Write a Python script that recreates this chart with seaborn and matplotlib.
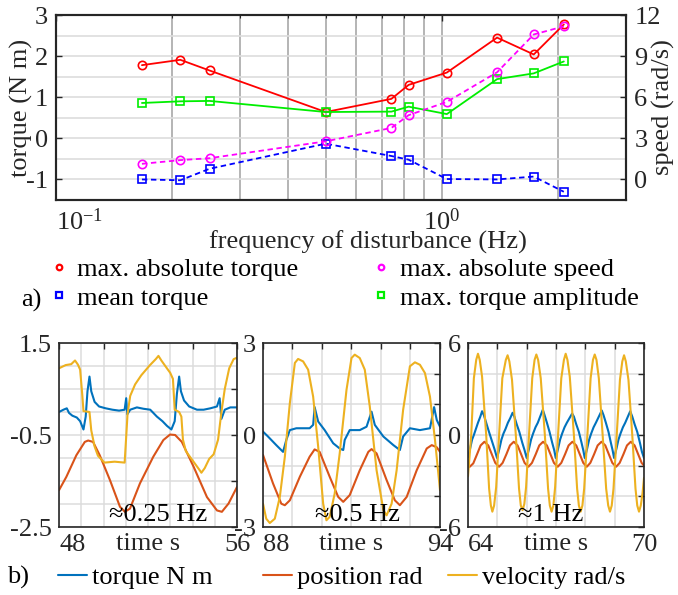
import numpy as np
import pandas as pd
import matplotlib
matplotlib.use("Agg")
import matplotlib.pyplot as plt
import seaborn as sns
from matplotlib.lines import Line2D
from matplotlib.ticker import LogLocator, NullFormatter, MultipleLocator

# ── DATA: frequency sweep (panel a) ────────────────────────────────
freq_hz        = [0.167, 0.21, 0.25, 0.5, 0.74, 0.82, 1.03, 1.39, 1.73, 2.07]
max_abs_torque = [1.78, 1.91, 1.65, 0.64, 0.96, 1.30, 1.60, 2.45, 2.04, 2.77]
max_abs_speed  = [1.14, 1.41, 1.55, 2.78, 3.76, 4.69, 5.66, 7.82, 10.58, 11.17]
mean_torque    = [-1.00, -1.02, -0.74, -0.13, -0.43, -0.52, -0.99, -1.00, -0.93, -1.30]
max_torque_amp = [0.86, 0.90, 0.91, 0.64, 0.65, 0.77, 0.59, 1.44, 1.58, 1.87]

# ── DATA: time traces (panel b), rows = [time s, value] ────────────
# ~0.25 Hz
torque_025 = np.array([
    [48.0, 0.0], [48.2, 0.05], [48.35, 0.08], [48.45, -0.02], [48.6, -0.08], [48.8, -0.12],
    [48.95, -0.2], [49.1, -0.38], [49.2, -0.1], [49.28, 0.45], [49.37, 0.77], [49.45, 0.45],
    [49.6, 0.22], [49.8, 0.12], [50.1, 0.08], [50.4, 0.05], [50.7, 0.03], [50.95, 0.05],
    [51.02, 0.3], [51.07, -0.05], [51.2, 0.05], [51.5, 0.1], [51.8, 0.07], [52.1, 0.05],
    [52.4, -0.1], [52.65, -0.2], [52.85, -0.3], [53.05, -0.38], [53.2, -0.2], [53.3, 0.4],
    [53.4, 0.77], [53.48, 0.45], [53.62, 0.25], [53.85, 0.12], [54.2, 0.05], [54.5, 0.05],
    [54.8, 0.08], [55.1, 0.12], [55.22, 0.3], [55.3, -0.15], [55.45, 0.05], [55.7, 0.1],
    [56.0, 0.1]])
position_025 = np.array([
    [48.0, -1.7], [48.33, -1.41], [48.78, -0.94], [49.16, -0.65], [49.31, -0.62], [49.53, -0.65],
    [49.83, -0.94], [50.29, -1.48], [50.74, -2.06], [50.96, -2.17], [51.19, -2.10], [51.64, -1.55],
    [52.24, -0.97], [52.69, -0.61], [52.99, -0.49], [53.22, -0.50], [53.52, -0.65], [54.05, -1.19],
    [54.65, -1.85], [55.1, -2.14], [55.32, -2.17], [55.62, -1.99], [56.0, -1.63]])
velocity_025 = np.array([
    [48.0, 0.95], [48.3, 1.02], [48.55, 1.04], [48.72, 1.12], [48.85, 1.03], [48.95, 0.92],
    [49.05, 0.35], [49.1, 0.02], [49.37, 0.0], [49.45, -0.4], [49.6, -0.75], [49.75, -0.95],
    [50.04, -1.1], [50.5, -1.08], [50.95, -1.1], [51.0, -0.7], [51.08, -0.05], [51.2, 0.35],
    [51.42, 0.6], [51.7, 0.8], [52.09, 1.02], [52.35, 1.15], [52.47, 1.22], [52.6, 1.12],
    [52.85, 0.95], [53.0, 0.85], [53.12, 0.72], [53.2, 0.05], [53.4, 0.0], [53.5, -0.1],
    [53.57, -0.6], [53.7, -0.85], [54.0, -1.05], [54.3, -1.25], [54.4, -1.32], [54.55, -1.22],
    [54.75, -1.02], [54.95, -0.92], [55.15, -0.6], [55.3, 0.0], [55.45, 0.5], [55.65, 0.95],
    [55.85, 1.15], [56.0, 1.18]])

# ~0.5 Hz
torque_05 = np.array([
    [88.0, 0.11], [88.17, -0.05], [88.45, -0.33], [88.68, -0.55], [88.79, -0.16], [88.91, 0.16],
    [89.13, 0.22], [89.36, 0.22], [89.58, 0.22], [89.7, 0.33], [89.75, 0.91], [89.87, 0.44],
    [90.09, 0.16], [90.38, -0.27], [90.6, -0.44], [90.72, -0.49], [90.77, -0.16], [90.94, 0.16],
    [91.28, 0.16], [91.51, 0.27], [91.68, 0.76], [91.79, 0.33], [92.08, -0.05], [92.42, -0.33],
    [92.64, -0.49], [92.75, -0.05], [92.98, 0.22], [93.32, 0.16], [93.66, 0.22], [93.8, 0.91],
    [93.89, 0.49], [94.0, 0.27]])
position_05 = np.array([
    [88.0, -0.65], [88.34, -1.58], [88.62, -2.24], [88.74, -2.29], [88.91, -2.13], [89.25, -1.36],
    [89.58, -0.71], [89.75, -0.47], [89.92, -0.55], [90.26, -1.36], [90.55, -2.02], [90.72, -2.18],
    [90.94, -1.96], [91.28, -1.15], [91.57, -0.55], [91.68, -0.46], [91.85, -0.6], [92.19, -1.47],
    [92.47, -2.13], [92.64, -2.29], [92.87, -2.02], [93.21, -1.15], [93.55, -0.44], [93.72, -0.33],
    [93.89, -0.40], [94.0, -0.55]])
velocity_05 = np.array([
    [88.0, -2.24], [88.11, -2.73], [88.23, -2.87], [88.4, -2.73], [88.57, -2.02], [88.74, -0.71],
    [88.91, 1.04], [89.08, 2.35], [89.19, 2.48], [89.36, 2.40], [89.53, 2.13], [89.7, 1.25],
    [89.87, -0.38], [90.04, -2.24], [90.15, -2.78], [90.26, -2.67], [90.43, -1.91], [90.6, -0.6],
    [90.83, 1.47], [91.0, 2.51], [91.11, 2.62], [91.28, 2.51], [91.45, 2.13], [91.62, 0.93],
    [91.85, -1.15], [92.08, -2.45], [92.19, -2.62], [92.36, -2.24], [92.53, -1.15], [92.75, 0.82],
    [92.98, 2.24], [93.15, 2.37], [93.32, 2.29], [93.49, 2.02], [93.66, 1.25], [93.83, -0.16],
    [94.0, -1.8]])

# ~1 Hz
torque_1 = np.array([
    [64.0, -1.45], [64.07, -0.9], [64.14, -0.3], [64.2, 0.0], [64.27, 0.4], [64.34, 0.8],
    [64.42, 1.2], [64.48, 1.55], [64.54, 1.3], [64.62, 0.8], [64.7, 0.3], [64.8, -0.3],
    [64.9, -0.9], [64.99, -1.5], [65.07, -0.9], [65.14, -0.3], [65.21, 0.1], [65.28, 0.4],
    [65.36, 0.8], [65.44, 1.1], [65.52, 1.45], [65.58, 1.2], [65.66, 0.7], [65.75, 0.2],
    [65.85, -0.5], [65.93, -1.0], [66.0, -1.5], [66.08, -0.9], [66.15, -0.3], [66.22, 0.1],
    [66.3, 0.5], [66.38, 0.8], [66.46, 1.2], [66.55, 1.65], [66.61, 1.3], [66.69, 0.8],
    [66.78, 0.2], [66.87, -0.5], [66.94, -1.0], [66.99, -1.5], [67.07, -0.9], [67.14, -0.3],
    [67.21, 0.1], [67.29, 0.5], [67.37, 0.8], [67.46, 1.1], [67.55, 1.4], [67.61, 1.2],
    [67.69, 0.7], [67.78, 0.2], [67.87, -0.5], [67.93, -1.0], [67.98, -1.5], [68.06, -0.9],
    [68.13, -0.3], [68.2, 0.1], [68.28, 0.5], [68.36, 0.8], [68.46, 1.2], [68.56, 1.6],
    [68.62, 1.3], [68.7, 0.8], [68.79, 0.2], [68.87, -0.5], [68.93, -1.0], [68.98, -1.5],
    [69.06, -0.9], [69.13, -0.3], [69.2, 0.1], [69.28, 0.5], [69.36, 0.8], [69.45, 1.2],
    [69.53, 1.55], [69.6, 1.2], [69.68, 0.7], [69.77, 0.2], [69.86, -0.5], [69.93, -1.1],
    [70.0, -1.5]])
position_1 = np.array([
    [64.0, -2.05], [64.06, -2.07], [64.18, -1.85], [64.31, -1.25], [64.43, -0.68], [64.56, -0.44],
    [64.69, -0.68], [64.81, -1.25], [64.93, -1.82], [65.06, -2.07], [65.18, -1.82], [65.31, -1.25],
    [65.43, -0.68], [65.56, -0.44], [65.69, -0.68], [65.81, -1.25], [65.93, -1.82], [66.06, -2.07],
    [66.18, -1.82], [66.31, -1.25], [66.43, -0.68], [66.56, -0.44], [66.69, -0.68], [66.81, -1.25],
    [66.93, -1.82], [67.06, -2.07], [67.18, -1.82], [67.31, -1.25], [67.43, -0.68], [67.56, -0.44],
    [67.69, -0.68], [67.81, -1.25], [67.93, -1.82], [68.05, -2.07], [68.17, -1.82], [68.3, -1.25],
    [68.42, -0.68], [68.55, -0.44], [68.68, -0.68], [68.8, -1.25], [68.92, -1.82], [69.05, -2.07],
    [69.17, -1.82], [69.3, -1.25], [69.42, -0.68], [69.55, -0.44], [69.68, -0.68], [69.8, -1.25],
    [69.92, -1.82], [70.0, -2.0]])
velocity_1 = np.array([
    [64.0, -2.7], [64.11, 0.0], [64.2, 3.7], [64.28, 4.9], [64.34, 5.3], [64.4, 4.9], [64.48, 3.8],
    [64.62, 0.0], [64.72, -3.5], [64.78, -4.6], [64.83, -5.0], [64.89, -4.6], [64.96, -3.4],
    [65.06, 0.0], [65.17, 3.7], [65.29, 4.9], [65.35, 5.2], [65.41, 4.8], [65.5, 3.6], [65.63, 0.0],
    [65.74, -3.5], [65.8, -4.6], [65.86, -4.9], [65.92, -4.5], [65.98, -3.4],
    [66.08, 0.0], [66.19, 3.7], [66.27, 4.9], [66.33, 5.25], [66.39, 4.9], [66.48, 3.7], [66.62, 0.0],
    [66.73, -3.5], [66.79, -4.6], [66.85, -5.0], [66.91, -4.6], [66.97, -3.4],
    [67.07, 0.0], [67.18, 3.7], [67.27, 4.9], [67.33, 5.3], [67.39, 4.9], [67.47, 3.8], [67.61, 0.0],
    [67.72, -3.5], [67.78, -4.6], [67.84, -5.0], [67.9, -4.6], [67.96, -3.5],
    [68.07, 0.0], [68.18, 3.7], [68.26, 4.9], [68.32, 5.25], [68.38, 4.9], [68.46, 3.7], [68.59, 0.0],
    [68.71, -3.5], [68.78, -4.6], [68.84, -5.0], [68.9, -4.6], [68.96, -3.5],
    [69.07, 0.0], [69.18, 3.6], [69.26, 4.8], [69.32, 5.2], [69.38, 4.8], [69.47, 3.6], [69.6, 0.0],
    [69.71, -3.5], [69.77, -4.6], [69.83, -5.0], [69.89, -4.6], [69.95, -3.8], [70.0, -2.8]])

# panel settings: traces, x range, x tick step, y range, y tick step, grid step,
# labelled y ticks, annotation and its x position
PANELS = [
    (torque_025, position_025, velocity_025, (48, 56), 2, (-2.5, 1.5), 1.0, 0.5,
     [1.5, -0.5, -2.5], "≈0.25 Hz", 0.556),
    (torque_05, position_05, velocity_05, (88, 94), 1, (-3, 3), 1, 1,
     [3, 0, -3], "≈0.5 Hz", 0.534),
    (torque_1, position_1, velocity_1, (64, 70), 1, (-6, 6), 2, 2,
     [6, 0, -6], "≈1 Hz", 0.47),
]
LEGEND_B = ["torque N m", "position rad", "velocity rad/s"]

C_TORQUE, C_POS, C_VEL = "#0072BD", "#D95319", "#EDB120"
FS = 19
SPINE = "#262626"

sns.set_theme(style="white")
plt.rcParams.update({
    "font.family": ["Liberation Serif", "DejaVu Serif"],
    "mathtext.fontset": "custom",
    "mathtext.rm": "Liberation Serif",
    "mathtext.it": "Liberation Serif:italic",
    "font.size": FS,
    "axes.unicode_minus": False,
    "xtick.direction": "in",
    "ytick.direction": "in",
    "axes.edgecolor": SPINE,
    "xtick.color": SPINE,
    "ytick.color": SPINE,
    "text.color": "black",
})

fig = plt.figure(figsize=(6.78, 5.95), dpi=100)

# ── PANEL A ─────────────────────────────────────────────────────────
ax = fig.add_axes([56 / 678, 1 - 200 / 595, 570 / 678, 185 / 595])
ax.set_xscale("log")
ax2 = ax.twinx()

mk = dict(markersize=6, markerfacecolor="none", markeredgewidth=1.2)
sns.lineplot(x=freq_hz, y=max_abs_torque, ax=ax, color="#FF0000", marker="o",
             markeredgecolor="#FF0000", linewidth=1.3, sort=False, estimator=None, **mk)
sns.lineplot(x=freq_hz, y=max_torque_amp, ax=ax, color="#00EE00", marker="s",
             markeredgecolor="#00EE00", linewidth=1.3, sort=False, estimator=None, **mk)
sns.lineplot(x=freq_hz, y=mean_torque, ax=ax, color="#0000FF", marker="s",
             markeredgecolor="#0000FF", linewidth=1.3, linestyle=(0, (3, 2)),
             sort=False, estimator=None, **mk)
sns.lineplot(x=freq_hz, y=max_abs_speed, ax=ax2, color="#FF00FF", marker="o",
             markeredgecolor="#FF00FF", linewidth=1.3, linestyle=(0, (3, 2)),
             sort=False, estimator=None, **mk)

ax.set_xlim(0.1, 3)
ax.set_ylim(-1.5, 3)
ax2.set_ylim(-1.5, 12)
ax.set_xticks([0.1, 1])
ax.set_xticklabels(["$10^{-1}$", "$10^{0}$"])
ax.get_xticklabels()[0].set_ha("left")
ax.xaxis.set_minor_locator(LogLocator(base=10, subs=np.arange(2, 10)))
ax.xaxis.set_minor_formatter(NullFormatter())
ax.set_yticks([-1, 0, 1, 2, 3])
ax.set_yticklabels(["-1", "0", "1", "2", "3"])
ax.yaxis.set_minor_locator(MultipleLocator(0.5))
ax2.set_yticks([0, 3, 6, 9, 12])
ax2.set_yticklabels(["0", "3", "6", "9", "12"])
ax.grid(which="both", axis="x", color="#a8a8a8", linewidth=1.2)
ax.grid(which="both", axis="y", color="#dddddd", linewidth=1.2)
ax.set_axisbelow(True)
ax2.grid(False)
ax.tick_params(which="major", length=4, width=1, labelsize=FS, pad=6, top=True)
ax.tick_params(which="minor", length=2.5, width=0.8, top=True, left=False)
ax.tick_params(axis="y", which="minor", length=0)
ax2.tick_params(which="major", length=4, width=1, labelsize=FS, pad=6)
for a in (ax, ax2):
    for s in a.spines.values():
        s.set_linewidth(1.5)
        s.set_color(SPINE)

ax.set_xlabel("frequency of disturbance (Hz)", fontsize=FS)
ax.xaxis.set_label_coords(0.547, -0.165)
ax.set_ylabel("torque (N m)", fontsize=FS)
ax.yaxis.set_label_coords(-0.04, 0.5)
ax2.set_ylabel("speed (rad/s)", fontsize=FS, rotation=90)
ax2.yaxis.set_label_coords(1.045, 0.5)

leg_a = [
    Line2D([], [], ls="none", marker="o", ms=4, mfc="none", mec="#FF0000", mew=1.6),
    Line2D([], [], ls="none", marker="s", ms=4, mfc="none", mec="#0000FF", mew=1.6),
    Line2D([], [], ls="none", marker="o", ms=4, mfc="none", mec="#FF00FF", mew=1.6),
    Line2D([], [], ls="none", marker="s", ms=4, mfc="none", mec="#00EE00", mew=1.6),
]
fig.legend(leg_a, ["max. absolute torque", "mean torque",
                   "max. absolute speed", "max. torque amplitude"],
           ncol=2, loc="upper left", bbox_to_anchor=(52 / 678, 1 - 258 / 595),
           frameon=False, fontsize=FS, handlelength=0.5, handletextpad=0.45,
           columnspacing=2.9, labelspacing=0.18, borderpad=0, borderaxespad=0)
fig.text(21 / 678, 1 - 300 / 595, "a)", fontsize=FS, va="center", ha="left")

# ── PANEL B ─────────────────────────────────────────────────────────
lefts = [59, 263, 468]
widths = [178, 177, 176]
for (tq, pos, vel, xr, xstep, yr, ystep, ygrid, ylab, note, note_x), L, W in zip(
        PANELS, lefts, widths):
    axb = fig.add_axes([L / 678, 1 - 527 / 595, W / 678, 184 / 595])
    sns.lineplot(x=tq[:, 0], y=tq[:, 1], ax=axb, color=C_TORQUE, linewidth=1.5,
                 sort=False, estimator=None)
    sns.lineplot(x=pos[:, 0], y=pos[:, 1], ax=axb, color=C_POS, linewidth=1.5,
                 sort=False, estimator=None)
    sns.lineplot(x=vel[:, 0], y=vel[:, 1], ax=axb, color=C_VEL, linewidth=1.5,
                 sort=False, estimator=None)
    axb.set_xlim(*xr)
    axb.set_ylim(*yr)
    xt = np.arange(xr[0], xr[1] + 0.01, xstep)
    axb.set_xticks(xt)
    axb.set_xticklabels([f"{v:g}" if v in xr else "" for v in xt])
    axb.get_xticklabels()[0].set_ha("left")
    axb.xaxis.set_minor_locator(MultipleLocator(1))
    yt = np.arange(yr[0], yr[1] + 0.01, ystep)
    axb.set_yticks(yt)
    axb.set_yticklabels([f"{v:g}" if any(abs(v - q) < 1e-9 for q in ylab) else "" for v in yt])
    axb.yaxis.set_minor_locator(MultipleLocator(ygrid))
    axb.grid(which="both", color="#dcdcdc", linewidth=1.1)
    axb.set_axisbelow(True)
    axb.tick_params(which="major", length=4, width=1, labelsize=FS, pad=5,
                    top=True, right=True)
    axb.tick_params(which="minor", length=0)
    for s in axb.spines.values():
        s.set_linewidth(1.2)
        s.set_color(SPINE)
    axb.set_xlabel("time s", fontsize=FS)
    axb.xaxis.set_label_coords(0.5, -0.035)
    axb.set_ylabel("")
    axb.text(note_x, 0.005, note, transform=axb.transAxes, fontsize=FS,
             ha="center", va="bottom")

# one legend per entry, placed where the reference has it
for c, lab, x0 in zip((C_TORQUE, C_POS, C_VEL), LEGEND_B, (58, 263, 448)):
    fig.legend([Line2D([], [], color=c, linewidth=1.5)], [lab],
               loc="center left", bbox_to_anchor=(x0 / 678, 1 - 577 / 595),
               frameon=False, fontsize=FS, handlelength=1.1, handletextpad=0.2,
               borderpad=0, borderaxespad=0)
fig.text(7 / 678, 1 - 577 / 595, "b)", fontsize=FS, va="center", ha="left")

fig.savefig("out.png", dpi=100)
